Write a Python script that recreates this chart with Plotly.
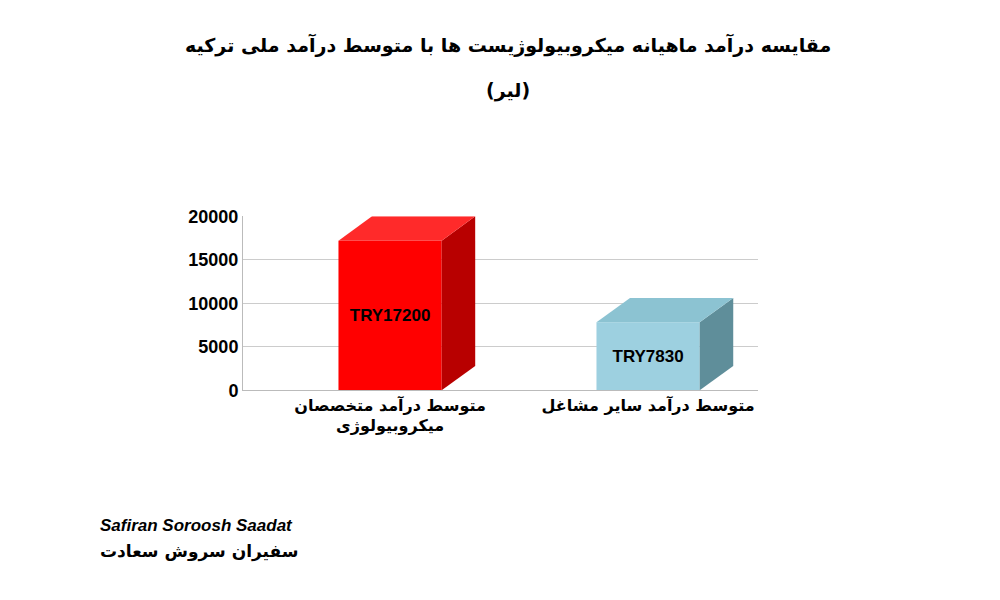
import plotly.graph_objects as go

categories = ["متوسط درآمد متخصصان<br>میکروبیولوژی", "متوسط درآمد سایر مشاغل"]
values = [17200, 7830]
labels = ["<b>TRY17200</b>", "<b>TRY7830</b>"]
yticks = [0, 5000, 10000, 15000, 20000]
front_colors = ["#ff0000", "#9dd0e0"]
side_colors = ["#b80000", "#5f8e9a"]
top_colors = ["#ff2a2a", "#8cc3d2"]

W = 0.4
DX = 0.13
DY = 2800

fig = go.Figure()
fig.add_trace(go.Bar(x=[0, 1], y=values, width=W, marker=dict(color=front_colors, line=dict(width=0)),
                     text=labels, textposition="inside", insidetextanchor="middle",
                     textfont=dict(family="Liberation Sans", size=17, color="black"), hoverinfo="skip"))
shapes = []
for i, v in enumerate(values):
    x0, x1 = i - W / 2, i + W / 2
    shapes.append(dict(type="path", xref="x", yref="y", fillcolor=side_colors[i], line=dict(width=0),
                       path=f"M{x1},0 L{x1+DX},{DY} L{x1+DX},{v+DY} L{x1},{v} Z"))
    shapes.append(dict(type="path", xref="x", yref="y", fillcolor=top_colors[i], line=dict(width=0),
                       path=f"M{x0},{v} L{x0+DX},{v+DY} L{x1+DX},{v+DY} L{x1},{v} Z"))
fig.update_layout(shapes=shapes)

fig.update_layout(
    width=1000, height=600, paper_bgcolor="white", plot_bgcolor="white", showlegend=False,
    margin=dict(l=0, r=0, t=0, b=0),
    xaxis=dict(domain=[0.235, 0.75], range=[-0.57, 1.426], tickvals=[0, 1], ticktext=categories,
               tickfont=dict(family="DejaVu Sans", size=16, color="black", weight="bold"),
               showline=True, linecolor="#bbbbbb", showgrid=False, zeroline=False),
    yaxis=dict(domain=[0.358, 0.658], range=[0, 20000], tickvals=yticks, ticktext=[str(t) for t in yticks],
               tickfont=dict(family="Liberation Sans", size=18, color="black", weight="bold"),
               showgrid=True, gridcolor="#cccccc", showline=True, linecolor="#bbbbbb", zeroline=False),
    bargap=0.5,
)
fig.add_annotation(text="<b>مقایسه درآمد ماهیانه میکروبیولوژیست ها با متوسط درآمد ملی ترکیه</b>",
                   xref="paper", yref="paper", x=0.5, y=1 - 28 / 600, yanchor="middle", showarrow=False,
                   font=dict(family="DejaVu Sans", size=19, color="black"))
fig.add_annotation(text="<b>(لیر)</b>", xref="paper", yref="paper", x=0.5, y=1 - 75 / 600, yanchor="middle",
                   showarrow=False, font=dict(family="DejaVu Sans", size=19, color="black"))
fig.add_annotation(text="<b><i>Safiran Soroosh Saadat</i></b>", xref="paper", yref="paper", x=0.09, y=1 - 525 / 600,
                   yanchor="middle", xanchor="left", showarrow=False,
                   font=dict(family="Liberation Sans", size=17, color="black"))
fig.add_annotation(text="<b>سفیران سروش سعادت</b>", xref="paper", yref="paper", x=0.09, y=1 - 552 / 600,
                   yanchor="middle", xanchor="left", showarrow=False,
                   font=dict(family="DejaVu Sans", size=17, color="black"))
fig.write_html("out.html")
